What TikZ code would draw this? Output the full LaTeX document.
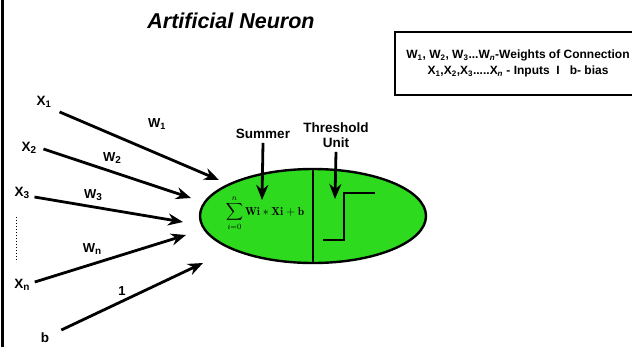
\documentclass[tikz,border=0pt]{standalone}
\usepackage{amsmath}
\usepackage{fontspec}
\setsansfont{Liberation Sans}
\usepackage{xcolor}
\usetikzlibrary{shapes.geometric, arrows.meta}

\definecolor{cellgreen}{RGB}{45,218,30}
\newcommand\lowidx[1]{\raisebox{-0.25ex}{\fontsize{10}{10}\selectfont #1}}

\begin{document}
\begin{tikzpicture}[x=1pt, y=-1pt, >={Stealth[length=15pt, width=12pt]},
    wire/.style={->, line width=2.8pt},
    lbl/.style={font=\sffamily\bfseries\fontsize{13.5}{15.5}\selectfont, inner sep=0pt},
    wlbl/.style={font=\sffamily\bfseries\fontsize{13}{15}\selectfont, inner sep=0pt}]
    \useasboundingbox (0,0) rectangle (632,346);
    \draw[line width=3pt] (2,-2) -- (2,348);

    % title and legend
    \node[font=\sffamily\bfseries\itshape\fontsize{21.5}{24}\selectfont] (title) at (231,21) {Artificial Neuron};
    \node[draw, line width=2.8pt, minimum width=246pt, minimum height=63pt, align=center,
          font=\sffamily\bfseries\fontsize{12}{16}\selectfont] (legend) at (518,63.5)
          {W\textsubscript{1}, W\textsubscript{2}, W\textsubscript{3}...W\textsubscript{\itshape n}-Weights of Connection\\
           X\textsubscript{1},X\textsubscript{2},X\textsubscript{3}.....X\textsubscript{\itshape n} - Inputs \ I \ \ b- bias};

    % neuron body
    \node[ellipse, draw, line width=2.4pt, fill=cellgreen, minimum width=226pt, minimum height=94pt] (neuron) at (313,216) {};
    \draw[line width=2.4pt] (neuron.north) -- (neuron.south);
    \node[inner sep=0pt] (sum) at (265,213) {\fontsize{11.5}{12}\selectfont$\displaystyle\sum_{i=0}^{n}\mathbf{Wi}*\mathbf{Xi}+\mathbf{b}$};
    \draw[line width=2.6pt] (323,240) -- (344,240) -- (344,193) -- (375,193);

    \node[lbl] (summer) at (263,134) {Summer};
    \node[lbl, align=center] (thresh) at (336,135) {Threshold\\Unit};
    \coordinate (sumtip) at (262,200);
    \coordinate (thtip) at (335,199);
    \draw[wire] (summer.south) ++(0,4) -- (sumtip);
    \draw[wire] (thresh.south) ++(0,4) -- (thtip);

    % inputs
    \node[lbl] (x1) at (44,102) {X\textsubscript{1}};
    \node[lbl] (x2) at (29,148) {X\lowidx{2}};
    \node[lbl] (x3) at (22,193) {X\lowidx{3}};
    \node[lbl] (xn) at (22,285) {X\lowidx{n}};
    \node[lbl] (b)  at (45,338) {b};
    \draw[dotted, line width=1pt] (16,217) -- (16,262);

    \coordinate (t1) at (219,180);
    \coordinate (t2) at (191,198);
    \coordinate (t3) at (183,222);
    \coordinate (tn) at (186,235);
    \coordinate (tb) at (203,263);
    \draw[wire] (x1.south east) ++(8,4) -- (t1);
    \draw[wire] (x2.east) ++(7,1) -- (t2);
    \draw[wire] (x3.east) ++(5,4) -- (t3);
    \draw[wire] (xn.east) ++(5,-3) -- (tn);
    \draw[wire] (b.east) ++(12,-8) -- (tb);

    \node[wlbl] (w1) at (157,124) {W\textsubscript{1}};
    \node[wlbl] (w2) at (112,158) {W\lowidx{2}};
    \node[wlbl] (w3) at (93,195) {W\lowidx{3}};
    \node[wlbl] (wn) at (92,249) {W\lowidx{n}};
    \node[wlbl] (one) at (122,291) {1};
\end{tikzpicture}
\end{document}
